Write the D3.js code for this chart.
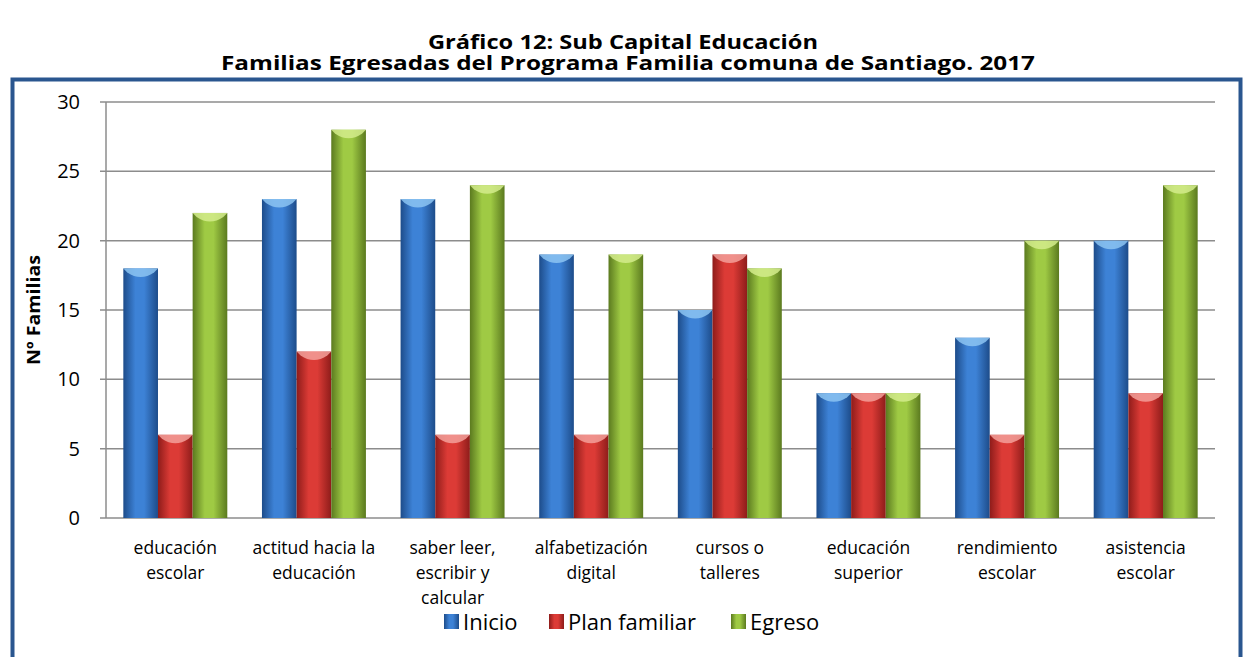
<!DOCTYPE html>
<html>
<head>
<meta charset="utf-8">
<script src="https://cdn.jsdelivr.net/npm/d3@7"></script>
<style>
  body { margin: 0; background: #fff; }
  svg { display: block; }
</style>
</head>
<body>
<svg id="chart" width="1244" height="657"></svg>
<script>
// data
var categories = [
  ["educación", "escolar"],
  ["actitud hacia la", "educación"],
  ["saber leer,", "escribir y", "calcular"],
  ["alfabetización", "digital"],
  ["cursos o", "talleres"],
  ["educación", "superior"],
  ["rendimiento", "escolar"],
  ["asistencia", "escolar"]
];
var series = ["Inicio", "Plan familiar", "Egreso"];
var inicio = [18, 23, 23, 19, 15, 9, 13, 20];
var planFamiliar = [6, 12, 6, 6, 19, 9, 6, 9];
var egreso = [22, 28, 24, 19, 18, 9, 20, 24];
var yTicks = [0, 5, 10, 15, 20, 25, 30];

var values = [inicio, planFamiliar, egreso];
// colors: edge, mid, top highlight
var colors = [
  {edge: "#1d4c8a", mid: "#3d82d6", top: "#8cc4f2"},
  {edge: "#8e1c1a", mid: "#dc3b36", top: "#f3a09a"},
  {edge: "#5b7a1f", mid: "#9fca44", top: "#d4ec8c"}
];

var svg = d3.select("#chart");
var defs = svg.append("defs");

colors.forEach(function(c, i) {
  var grad = defs.append("linearGradient")
    .attr("id", "grad" + i)
    .attr("x1", "0%").attr("x2", "100%").attr("y1", "0%").attr("y2", "0%");
  grad.append("stop").attr("offset", "0%").attr("stop-color", c.edge);
  grad.append("stop").attr("offset", "35%").attr("stop-color", c.mid);
  grad.append("stop").attr("offset", "60%").attr("stop-color", c.mid);
  grad.append("stop").attr("offset", "100%").attr("stop-color", c.edge);
});

// title
svg.append("text")
  .attr("x", 623).attr("y", 49)
  .attr("text-anchor", "middle")
  .attr("textLength", 390)
  .attr("lengthAdjust", "spacingAndGlyphs")
  .style("font-family", "'Open Sans', sans-serif")
  .style("font-weight", "bold")
  .style("font-size", "20px")
  .text("Gráfico 12: Sub Capital Educación");
svg.append("text")
  .attr("x", 628).attr("y", 70)
  .attr("text-anchor", "middle")
  .attr("textLength", 814)
  .attr("lengthAdjust", "spacingAndGlyphs")
  .style("font-family", "'Open Sans', sans-serif")
  .style("font-weight", "bold")
  .style("font-size", "20px")
  .text("Familias Egresadas del Programa Familia comuna de Santiago. 2017");

// frame
svg.append("rect")
  .attr("x", 12.5).attr("y", 79.5)
  .attr("width", 1228).attr("height", 600)
  .attr("fill", "none")
  .attr("stroke", "#2a568f")
  .attr("stroke-width", 4);

var plotLeft = 106, plotRight = 1215, plotTop = 102, plotBottom = 518;

var y = d3.scaleLinear().domain([0, 30]).range([plotBottom, plotTop]);
var x = d3.scaleBand()
  .domain(d3.range(categories.length))
  .range([plotLeft, plotRight])
  .paddingInner(0.25)
  .paddingOuter(0.125);
var xs = d3.scaleBand()
  .domain(d3.range(series.length))
  .range([0, x.bandwidth()]);

// gridlines
svg.append("g").selectAll("line")
  .data(yTicks)
  .enter().append("line")
  .attr("x1", plotLeft - 6).attr("x2", plotRight)
  .attr("y1", function(d) { return y(d); })
  .attr("y2", function(d) { return y(d); })
  .attr("stroke", "#8c8c8c")
  .attr("stroke-width", 1.5);

svg.append("line")
  .attr("x1", plotLeft).attr("x2", plotLeft)
  .attr("y1", plotTop).attr("y2", plotBottom)
  .attr("stroke", "#8c8c8c")
  .attr("stroke-width", 1.5);

// y axis labels
var yAxis = d3.axisLeft(y).tickValues(yTicks).tickSize(0).tickPadding(26);
var ya = svg.append("g")
  .attr("transform", "translate(" + plotLeft + ",0)")
  .call(yAxis);
ya.select(".domain").remove();
ya.selectAll("text")
  .style("font-family", "'Open Sans', sans-serif")
  .style("font-size", "20px")
  .attr("fill", "#000");

svg.append("text")
  .attr("transform", "translate(40,310) rotate(-90)")
  .attr("text-anchor", "middle")
  .attr("textLength", 110)
  .attr("lengthAdjust", "spacingAndGlyphs")
  .style("font-family", "'Open Sans', sans-serif")
  .style("font-weight", "bold")
  .style("font-size", "18px")
  .text("Nº Familias");

// bars
var groups = svg.append("g").selectAll("g")
  .data(categories)
  .enter().append("g")
  .attr("transform", function(d, i) { return "translate(" + x(i) + ",0)"; });

series.forEach(function(s, si) {
  groups.append("rect")
    .attr("x", xs(si))
    .attr("y", function(d, i) { return y(values[si][i]); })
    .attr("width", xs.bandwidth())
    .attr("height", function(d, i) { return plotBottom - y(values[si][i]); })
    .attr("fill", "url(#grad" + si + ")");
  groups.append("path")
    .attr("d", function(d, i) {
      var x0 = xs(si), w = xs.bandwidth(), t = y(values[si][i]);
      return "M" + x0 + "," + t + " L" + (x0 + w) + "," + t +
        " L" + (x0 + w - 4) + "," + (t + 4) +
        " Q" + (x0 + w / 2) + "," + (t + 13) + " " + (x0 + 4) + "," + (t + 4) + " Z";
    })
    .attr("fill", colors[si].top)
    .attr("opacity", 0.85);
});

// x labels
groups.append("text")
  .attr("x", x.bandwidth() / 2)
  .attr("y", 554)
  .attr("text-anchor", "middle")
  .style("font-family", "'Open Sans', sans-serif")
  .style("font-size", "17.5px")
  .each(function(d) {
    var t = d3.select(this);
    d.forEach(function(line, li) {
      t.append("tspan")
        .attr("x", x.bandwidth() / 2)
        .attr("dy", li === 0 ? 0 : 25)
        .text(line);
    });
  });

// legend
var legendX = [444, 549, 731];
var legend = svg.append("g").selectAll("g")
  .data(series)
  .enter().append("g")
  .attr("transform", function(d, i) { return "translate(" + legendX[i] + ",614)"; });
legend.append("rect")
  .attr("width", 15).attr("height", 15)
  .attr("fill", function(d, i) { return "url(#grad" + i + ")"; });
legend.append("text")
  .attr("x", 19).attr("y", 16)
  .style("font-family", "'Open Sans', sans-serif")
  .style("font-size", "22px")
  .text(function(d) { return d; });
</script>
</body>
</html>
